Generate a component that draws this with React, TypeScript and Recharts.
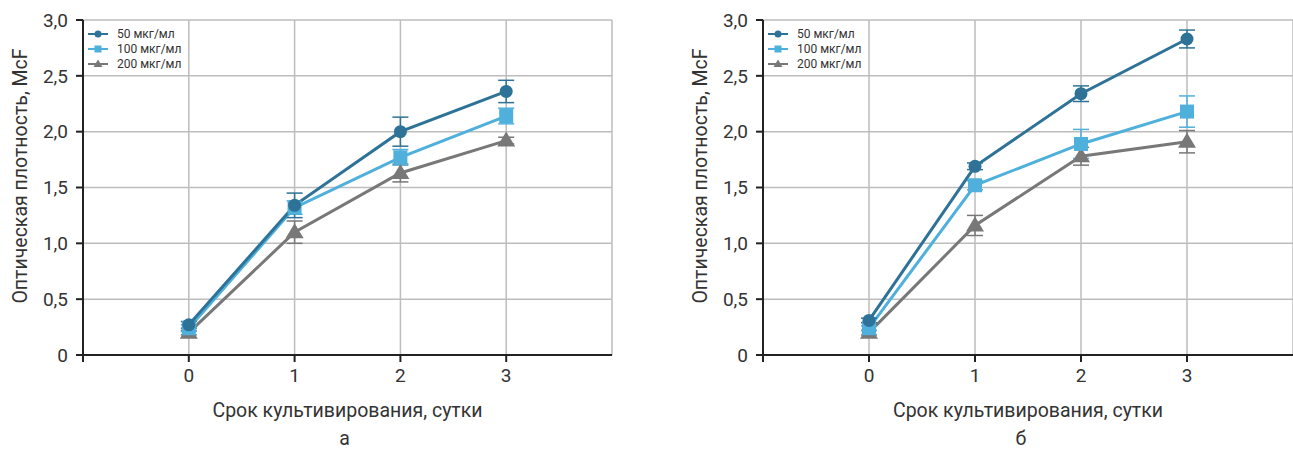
import React from "react";
import { CartesianGrid, ErrorBar, Line, LineChart, XAxis, YAxis } from "recharts";

const days = [0, 1, 2, 3];
const xTicks = [-1, 0, 1, 2, 3];
const yTicks = [0, 0.5, 1, 1.5, 2, 2.5, 3];

// panel а
const a50 = [0.27, 1.34, 2.0, 2.36];
const a50Err = [0.03, 0.11, 0.13, 0.1];
const a100 = [0.24, 1.32, 1.77, 2.14];
const a100Err = [0.03, 0.06, 0.07, 0.07];
const a200 = [0.2, 1.1, 1.63, 1.92];
const a200Err = [0.02, 0.1, 0.08, 0.03];

// panel б
const b50 = [0.31, 1.69, 2.34, 2.83];
const b50Err = [0.02, 0.03, 0.07, 0.08];
const b100 = [0.24, 1.52, 1.89, 2.18];
const b100Err = [0.02, 0.04, 0.13, 0.14];
const b200 = [0.2, 1.16, 1.78, 1.91];
const b200Err = [0.02, 0.09, 0.08, 0.1];

const seriesNames = ["50 мкг/мл", "100 мкг/мл", "200 мкг/мл"];
const colors = ["#2e7397", "#4fb0dc", "#787878"];

const FONT = "Roboto, sans-serif";
const TEXT = "#333";

function buildRows(s50: number[], e50: number[], s100: number[], e100: number[], s200: number[], e200: number[]) {
  return days.map((d, i) => ({
    day: d,
    v50: s50[i],
    e50: e50[i],
    v100: s100[i],
    e100: e100[i],
    v200: s200[i],
    e200: e200[i],
  }));
}

const circleDot = (props: any) => (
  <circle key={`c-${props.index}`} cx={props.cx} cy={props.cy} r={6.5} fill={colors[0]} />
);
const squareDot = (props: any) => (
  <rect key={`s-${props.index}`} x={props.cx - 7} y={props.cy - 7} width={14} height={14} fill={colors[1]} />
);
const triDot = (props: any) => (
  <polygon
    key={`t-${props.index}`}
    points={`${props.cx},${props.cy - 9} ${props.cx - 9},${props.cy + 6} ${props.cx + 9},${props.cy + 6}`}
    fill={colors[2]}
  />
);

const fmtY = (v: number) => (v === 0 ? "0" : v.toFixed(1).replace(".", ","));
const fmtX = (v: number) => (v < 0 ? "" : String(v));

function LegendBox() {
  const icons = [
    <circle cx={10} cy={6} r={3.5} fill={colors[0]} />,
    <rect x={6.5} y={2.5} width={7} height={7} fill={colors[1]} />,
    <polygon points="10,1.5 5.5,9 14.5,9" fill={colors[2]} />,
  ];
  return (
    <div style={{ position: "absolute", left: 88, top: 26, fontFamily: FONT, fontSize: 12, color: TEXT }}>
      {seriesNames.map((n, i) => (
        <div key={n} style={{ display: "flex", alignItems: "center", height: 15 }}>
          <svg width={20} height={12} style={{ marginRight: 9 }}>
            <line x1={0} x2={20} y1={6} y2={6} stroke={colors[i]} strokeWidth={2} />
            {icons[i]}
          </svg>
          <span>{n}</span>
        </div>
      ))}
    </div>
  );
}

function Panel({ rows, left, width, rightMargin, caption, captionShift }: any) {
  const plotLeft = 83;
  const plotRight = width - rightMargin;
  const center = left + (plotLeft + plotRight) / 2;
  return (
    <>
      <div style={{ position: "absolute", left, top: 0 }}>
        <LineChart
          width={width}
          height={449}
          data={rows}
          margin={{ top: 20, right: rightMargin, left: 43, bottom: 64 }}
        >
          <CartesianGrid stroke="#bdbdbd" strokeWidth={1.5} />
          <XAxis
            dataKey="day"
            type="number"
            domain={[-1, 4]}
            ticks={xTicks}
            tickFormatter={fmtX}
            stroke="#222"
            strokeWidth={2}
            tickSize={7}
            tickMargin={7}
            tick={{ fontSize: 19, fill: TEXT, fontFamily: FONT }}
            height={30}
          />
          <YAxis
            type="number"
            domain={[0, 3]}
            ticks={yTicks}
            tickFormatter={fmtY}
            stroke="#222"
            strokeWidth={2}
            tickSize={7}
            tickMargin={8}
            width={40}
            tick={{ fontSize: 19, fill: TEXT, fontFamily: FONT }}
          />
          <Line dataKey="v200" stroke={colors[2]} strokeWidth={3} dot={triDot} isAnimationActive={false}>
            <ErrorBar dataKey="e200" direction="y" width={8} stroke={colors[2]} strokeWidth={1.5} />
          </Line>
          <Line dataKey="v100" stroke={colors[1]} strokeWidth={3} dot={squareDot} isAnimationActive={false}>
            <ErrorBar dataKey="e100" direction="y" width={8} stroke={colors[1]} strokeWidth={1.5} />
          </Line>
          <Line dataKey="v50" stroke={colors[0]} strokeWidth={3} dot={circleDot} isAnimationActive={false}>
            <ErrorBar dataKey="e50" direction="y" width={8} stroke={colors[0]} strokeWidth={1.5} />
          </Line>
        </LineChart>
        <LegendBox />
        <div
          style={{
            position: "absolute",
            left: 20,
            top: 176,
            transform: "translate(-50%, -50%) rotate(-90deg)",
            whiteSpace: "nowrap",
            fontFamily: FONT,
            fontSize: 19.5,
            color: TEXT,
          }}
        >
          Оптическая плотность, McF
        </div>
      </div>
      <div
        style={{
          position: "absolute",
          left: center,
          top: 410,
          transform: "translate(-50%, -50%)",
          whiteSpace: "nowrap",
          fontFamily: FONT,
          fontSize: 19.5,
          color: TEXT,
        }}
      >
        Срок культивирования, сутки
      </div>
      <div
        style={{
          position: "absolute",
          left: center + captionShift,
          top: 439,
          transform: "translate(-50%, -50%)",
          fontFamily: FONT,
          fontSize: 19.5,
          lineHeight: "16px",
          color: TEXT,
        }}
      >
        {caption}
      </div>
    </>
  );
}

export default function App() {
  const rowsA = buildRows(a50, a50Err, a100, a100Err, a200, a200Err);
  const rowsB = buildRows(b50, b50Err, b100, b100Err, b200, b200Err);
  return (
    <div style={{ position: "absolute", left: 0, top: 0, width: 1293, height: 449, background: "#fff", overflow: "hidden" }}>
      <Panel rows={rowsA} left={0} width={640} rightMargin={28} caption="а" captionShift={-3} />
      <Panel rows={rowsB} left={680} width={613} rightMargin={0} caption="б" captionShift={-7} />
    </div>
  );
}
